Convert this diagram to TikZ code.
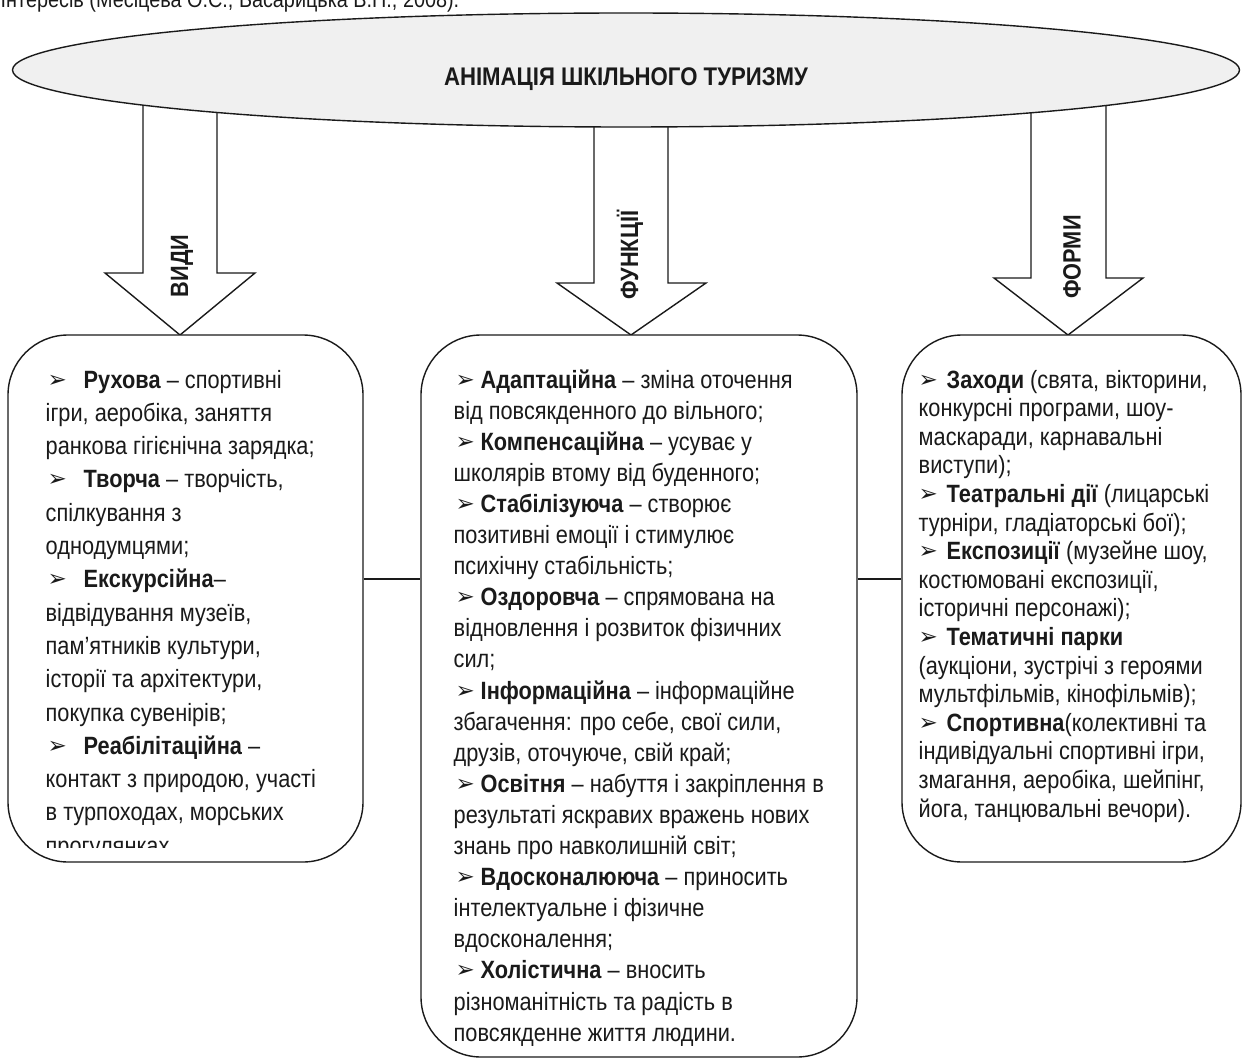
\documentclass[tikz,border=0pt]{standalone}
\usepackage{fontspec}
\setmainfont{Liberation Sans}[FakeStretch=0.87]
\newfontfamily\dingfont{DejaVu Sans}
\usetikzlibrary{shapes.geometric}
\definecolor{ellfill}{HTML}{F0F0F0}
\definecolor{ink}{HTML}{1A1A1A}
\newcommand\mybul[1]{\makebox[#1][l]{\raisebox{1pt}{\dingfont\fontsize{23}{23}\selectfont ➢}}}
\begin{document}
\begin{tikzpicture}[x=1pt,y=-1pt,line width=1.4pt,draw=ink,
  ellbox/.style={draw,ellipse,fill=ellfill,minimum width=1227pt,minimum height=114pt,inner sep=0pt},
  roundbox/.style={draw,fill=white,rounded corners=60pt,inner sep=0pt},
  txt/.style={anchor=base west,inner sep=0pt,text=ink,font=\fontsize{25}{29}\selectfont},
  lbl/.style={rotate=90,inner sep=0pt,text=ink,font=\bfseries\fontsize{25}{29}\selectfont},
  blockarrow/.style={draw,fill=white,line join=miter}]
\useasboundingbox (0,0) rectangle (1242,1059);
% citation line clipped at the top
\node[anchor=base west,inner sep=0pt,text=ink,font=\fontsize{22.8}{26}\selectfont] (cite) at (0,8) {Інтересів (Месіцева О.С., Басарицька В.П., 2008).};
% block arrows (drawn under the ellipse)
\path[blockarrow] (143,60) -- (143,273) -- (105,273) -- (180,335) -- (255,273) -- (217,273) -- (217,60) -- cycle;
\path[blockarrow] (594,60) -- (594,283) -- (557,283) -- (631,335) -- (706,283) -- (668,283) -- (668,60) -- cycle;
\path[blockarrow] (1031,60) -- (1031,278) -- (994,278) -- (1068,335) -- (1143,278) -- (1106,278) -- (1106,60) -- cycle;
% ellipse
\node[ellbox] (ell) at (626,70) {};
\node[anchor=base,inner sep=0pt,text=ink,font=\bfseries\fontsize{25.5}{29}\selectfont] (title) at (626,86) {АНІМАЦІЯ ШКІЛЬНОГО ТУРИЗМУ};
% arrow labels
\node[lbl] (vydy) at (182,266) {ВИДИ};
\node[lbl] (funk) at (630,255) {ФУНКЦІЇ};
\node[lbl] (form) at (1072,257) {ФОРМИ};
% boxes
\node[roundbox,minimum width=355pt,minimum height=527pt] (Lbox) at (185.5,598.5) {};
\node[roundbox,minimum width=436pt,minimum height=722pt] (Mbox) at (639,696) {};
\node[roundbox,minimum width=339pt,minimum height=527pt] (Rbox) at (1071.5,598.5) {};
% connectors
\coordinate (hy) at (0,579);
\draw (Lbox.east |- hy) -- (Mbox.west |- hy);
\draw (Mbox.east |- hy) -- (Rbox.west |- hy);
% left text
\foreach \t [count=\i from 0] in {
 {\hspace{2pt}\mybul{36pt}\textbf{Рухова} – спортивні},
 {ігри, аеробіка, заняття},
 {ранкова гігієнічна зарядка;},
 {\hspace{2pt}\mybul{36pt}\textbf{Творча} – творчість,},
 {спілкування з},
 {однодумцями;},
 {\hspace{2pt}\mybul{36pt}\textbf{Екскурсійна}–},
 {відвідування музеїв,},
 {пам’ятників культури,},
 {історії та архітектури,},
 {покупка сувенірів;},
 {\hspace{2pt}\mybul{36pt}\textbf{Реабілітаційна} –},
 {контакт з природою, участі},
 {в турпоходах, морських}}
 \node[txt] (L\i) at (45,388+\i*33.3) {\t};
\begin{scope}
\clip (0,0) rectangle (1242,847);
\node[txt] (L14) at (45,388+14*33.3) {прогулянках.};
\end{scope}
% middle text
\foreach \t [count=\i from 0] in {
 {\hspace{2pt}\mybul{25pt}\textbf{Адаптаційна} – зміна оточення},
 {від повсякденного до вільного;},
 {\hspace{2pt}\mybul{25pt}\textbf{Компенсаційна} – усуває у},
 {школярів втому від буденного;},
 {\hspace{2pt}\mybul{25pt}\textbf{Стабілізуюча} – створює},
 {позитивні емоції і стимулює},
 {психічну стабільність;},
 {\hspace{2pt}\mybul{25pt}\textbf{Оздоровча} – спрямована на},
 {відновлення і розвиток фізичних},
 {сил;},
 {\hspace{2pt}\mybul{25pt}\textbf{Інформаційна} – інформаційне},
 {збагачення: про себе, свої сили,},
 {друзів, оточуюче, свій край;},
 {\hspace{2pt}\mybul{25pt}\textbf{Освітня} – набуття і закріплення в},
 {результаті яскравих вражень нових},
 {знань про навколишній світ;},
 {\hspace{2pt}\mybul{25pt}\textbf{Вдосконалююча} – приносить},
 {інтелектуальне і фізичне},
 {вдосконалення;},
 {\hspace{2pt}\mybul{25pt}\textbf{Холістична} – вносить},
 {різноманітність та радість в},
 {повсякденне життя людини.}}
 \node[txt] (M\i) at (453,388+\i*31.1) {\t};
% right text
\foreach \t [count=\i from 0] in {
 {\mybul{28pt}\textbf{Заходи} (свята, вікторини,},
 {конкурсні програми, шоу-},
 {маскаради, карнавальні},
 {виступи);},
 {\mybul{28pt}\textbf{Театральні дії} (лицарські},
 {турніри, гладіаторські бої);},
 {\mybul{28pt}\textbf{Експозиції} (музейне шоу,},
 {костюмовані експозиції,},
 {історичні персонажі);},
 {\mybul{28pt}\textbf{Тематичні парки}},
 {(аукціони, зустрічі з героями},
 {мультфільмів, кінофільмів);},
 {\mybul{28pt}\textbf{Спортивна}(колективні та},
 {індивідуальні спортивні ігри,},
 {змагання, аеробіка, шейпінг,},
 {йога, танцювальні вечори).}}
 \node[txt] (R\i) at (918,388+\i*28.6) {\t};
\end{tikzpicture}
\end{document}
